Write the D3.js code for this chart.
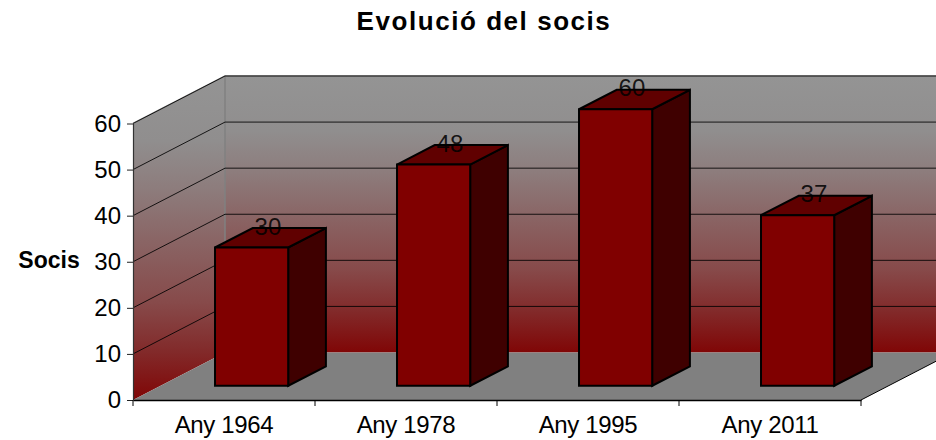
<!DOCTYPE html>
<html>
<head>
<meta charset="utf-8">
<script src="https://cdn.jsdelivr.net/npm/d3@7"></script>
<style>
html,body{margin:0;padding:0;background:#fff;overflow:hidden}
svg{display:block}
text{font-family:"Liberation Sans",Arial,sans-serif;fill:#000}
</style>
</head>
<body>
<div id="chart"></div>
<script>
const title = "Evolució del socis";
const yTitle = "Socis";
const categories = ["Any 1964", "Any 1978", "Any 1995", "Any 2011"];
const socis = [30, 48, 60, 37];
const yTicks = [0, 10, 20, 30, 40, 50, 60];

const W = 936, H = 440;
const svg = d3.select("#chart").append("svg").attr("width", W).attr("height", H);

const x = d3.scaleBand().domain(categories).range([133, 861]);
const y = d3.scaleLinear().domain([0, 60]).range([400, 123.5]);
const depth = d3.scaleLinear().domain([0, 1]).range([[0, 0], [92, -47.5]]);
const shift = (px, py, t) => { const o = depth(t); return [px + o[0], py + o[1]]; };
const poly = pts => pts.map(p => p.join(",")).join(" ");

const defs = svg.append("defs");
const wallStops = [[0, "#949494"], [0.2, "#908e8e"], [0.35, "#8d7c7c"], [0.5, "#8a6666"], [0.7, "#874a4a"], [0.85, "#822a2a"], [1, "#800606"]];
function grad(id, y1, y2) {
  const g = defs.append("linearGradient").attr("id", id)
    .attr("gradientUnits", "userSpaceOnUse")
    .attr("x1", 0).attr("x2", 0).attr("y1", y1).attr("y2", y2);
  wallStops.forEach(s => g.append("stop").attr("offset", s[0]).attr("stop-color", s[1]));
}
const y0 = y(0), yTop = y(60), xL = x.range()[0], xR = x.range()[1];
grad("backGrad", shift(0, yTop, 1)[1], shift(0, y0, 1)[1]);
grad("sideGrad", shift(0, yTop, 1)[1], y0);

// back wall
svg.append("polygon").attr("fill", "url(#backGrad)")
  .attr("points", poly([shift(xL, yTop, 1), shift(xR, yTop, 1), shift(xR, y0, 1), shift(xL, y0, 1)]));
// side wall
svg.append("polygon").attr("fill", "url(#sideGrad)")
  .attr("points", poly([[xL, yTop], shift(xL, yTop, 1), shift(xL, y0, 1), [xL, y0]]));
// floor
svg.append("polygon").attr("fill", "#808080")
  .attr("points", poly([[xL, y0], [xR, y0], shift(xR, y0, 1), shift(xL, y0, 1)]));

// wall edges
svg.append("path").attr("fill", "none").attr("stroke", "#8c8c8c").attr("stroke-width", 1.5)
  .attr("d", d3.line()([[xL, yTop], shift(xL, yTop, 1), shift(xR, yTop, 1)]));
svg.append("line").attr("stroke", "#808080").attr("stroke-width", 1.5)
  .attr("x1", shift(xL, 0, 1)[0]).attr("x2", shift(xL, 0, 1)[0])
  .attr("y1", shift(0, yTop, 1)[1]).attr("y2", shift(0, y0, 1)[1]);

// gridlines
const gridVals = yTicks.filter(v => v > 0);
const gridG = svg.append("g").attr("fill", "none").attr("stroke", "#000").attr("stroke-width", 1);
gridG.selectAll("path").data(gridVals).join("path")
  .attr("stroke-opacity", 0.85)
  .attr("d", v => d3.line()([[xL, y(v)], shift(xL, y(v), 1), shift(xR, y(v), 1)]));

// floor right edge
svg.append("line").attr("stroke", "#000").attr("stroke-width", 1)
  .attr("x1", xR).attr("y1", y0).attr("x2", shift(xR, y0, 1)[0]).attr("y2", shift(xR, y0, 1)[1]);

// bars
const barWidth = x.bandwidth() * 0.402;
const zFront = 0.30, zBack = 0.71;
const barG = svg.append("g").attr("stroke", "#000").attr("stroke-width", 2).attr("stroke-linejoin", "miter");
categories.forEach((c, i) => {
  const left = x(c) + (x.bandwidth() - barWidth) / 2, right = left + barWidth;
  const v = socis[i];
  const fl0 = shift(left, y0, zFront), fr0 = shift(right, y0, zFront);
  const flT = shift(left, y(v), zFront), frT = shift(right, y(v), zFront);
  const br0 = shift(right, y0, zBack), brT = shift(right, y(v), zBack), blT = shift(left, y(v), zBack);
  barG.append("polygon").attr("fill", "#3f0000").attr("points", poly([frT, brT, br0, fr0]));
  barG.append("polygon").attr("fill", "#600000").attr("points", poly([flT, blT, brT, frT]));
  barG.append("polygon").attr("fill", "#800000").attr("points", poly([flT, frT, fr0, fl0]));
  const lp = shift(left + barWidth / 2, y(v), 0.51);
  svg.append("text").attr("x", lp[0] - 3).attr("y", lp[1] - 3)
    .attr("text-anchor", "middle").attr("font-size", 24).attr("fill-opacity", 0.85)
    .text(v);
});

// axes
const axisL = svg.append("g").attr("transform", `translate(${xL},0)`)
  .call(d3.axisLeft(y).tickValues(yTicks).tickSize(6).tickPadding(6).tickSizeOuter(0));
const axisB = svg.append("g").attr("transform", `translate(0,${y0})`)
  .call(d3.axisBottom(x).tickSize(0));
axisB.selectAll(".boundary").data(d3.range(categories.length + 1)).join("line")
  .attr("class", "boundary").attr("stroke", "#000").attr("stroke-width", 1)
  .attr("x1", i => x.step() * i + xL).attr("x2", i => x.step() * i + xL)
  .attr("y1", 0).attr("y2", 6);
[axisL, axisB].forEach(a => {
  a.selectAll("text").attr("font-size", 24).attr("font-family", '"Liberation Sans",Arial,sans-serif').attr("fill", "#111");
});
axisL.select(".domain").attr("stroke", "#333").attr("stroke-width", 1.2);
axisL.selectAll(".tick line").attr("stroke", "#222");
axisL.selectAll("text").attr("dy", "0.33em");
axisB.select(".domain").attr("stroke", "#000").attr("stroke-width", 1.6);
axisB.selectAll("text").attr("y", 33).attr("dy", 0).attr("letter-spacing", -0.35);

// titles
svg.append("text").attr("x", 484).attr("y", 30).attr("text-anchor", "middle")
  .attr("font-size", 26).attr("font-weight", "bold").attr("letter-spacing", 1.55).text(title);
svg.append("text").attr("x", 49).attr("y", 268).attr("text-anchor", "middle")
  .attr("font-size", 23).attr("font-weight", "bold").text(yTitle);
</script>
</body>
</html>
